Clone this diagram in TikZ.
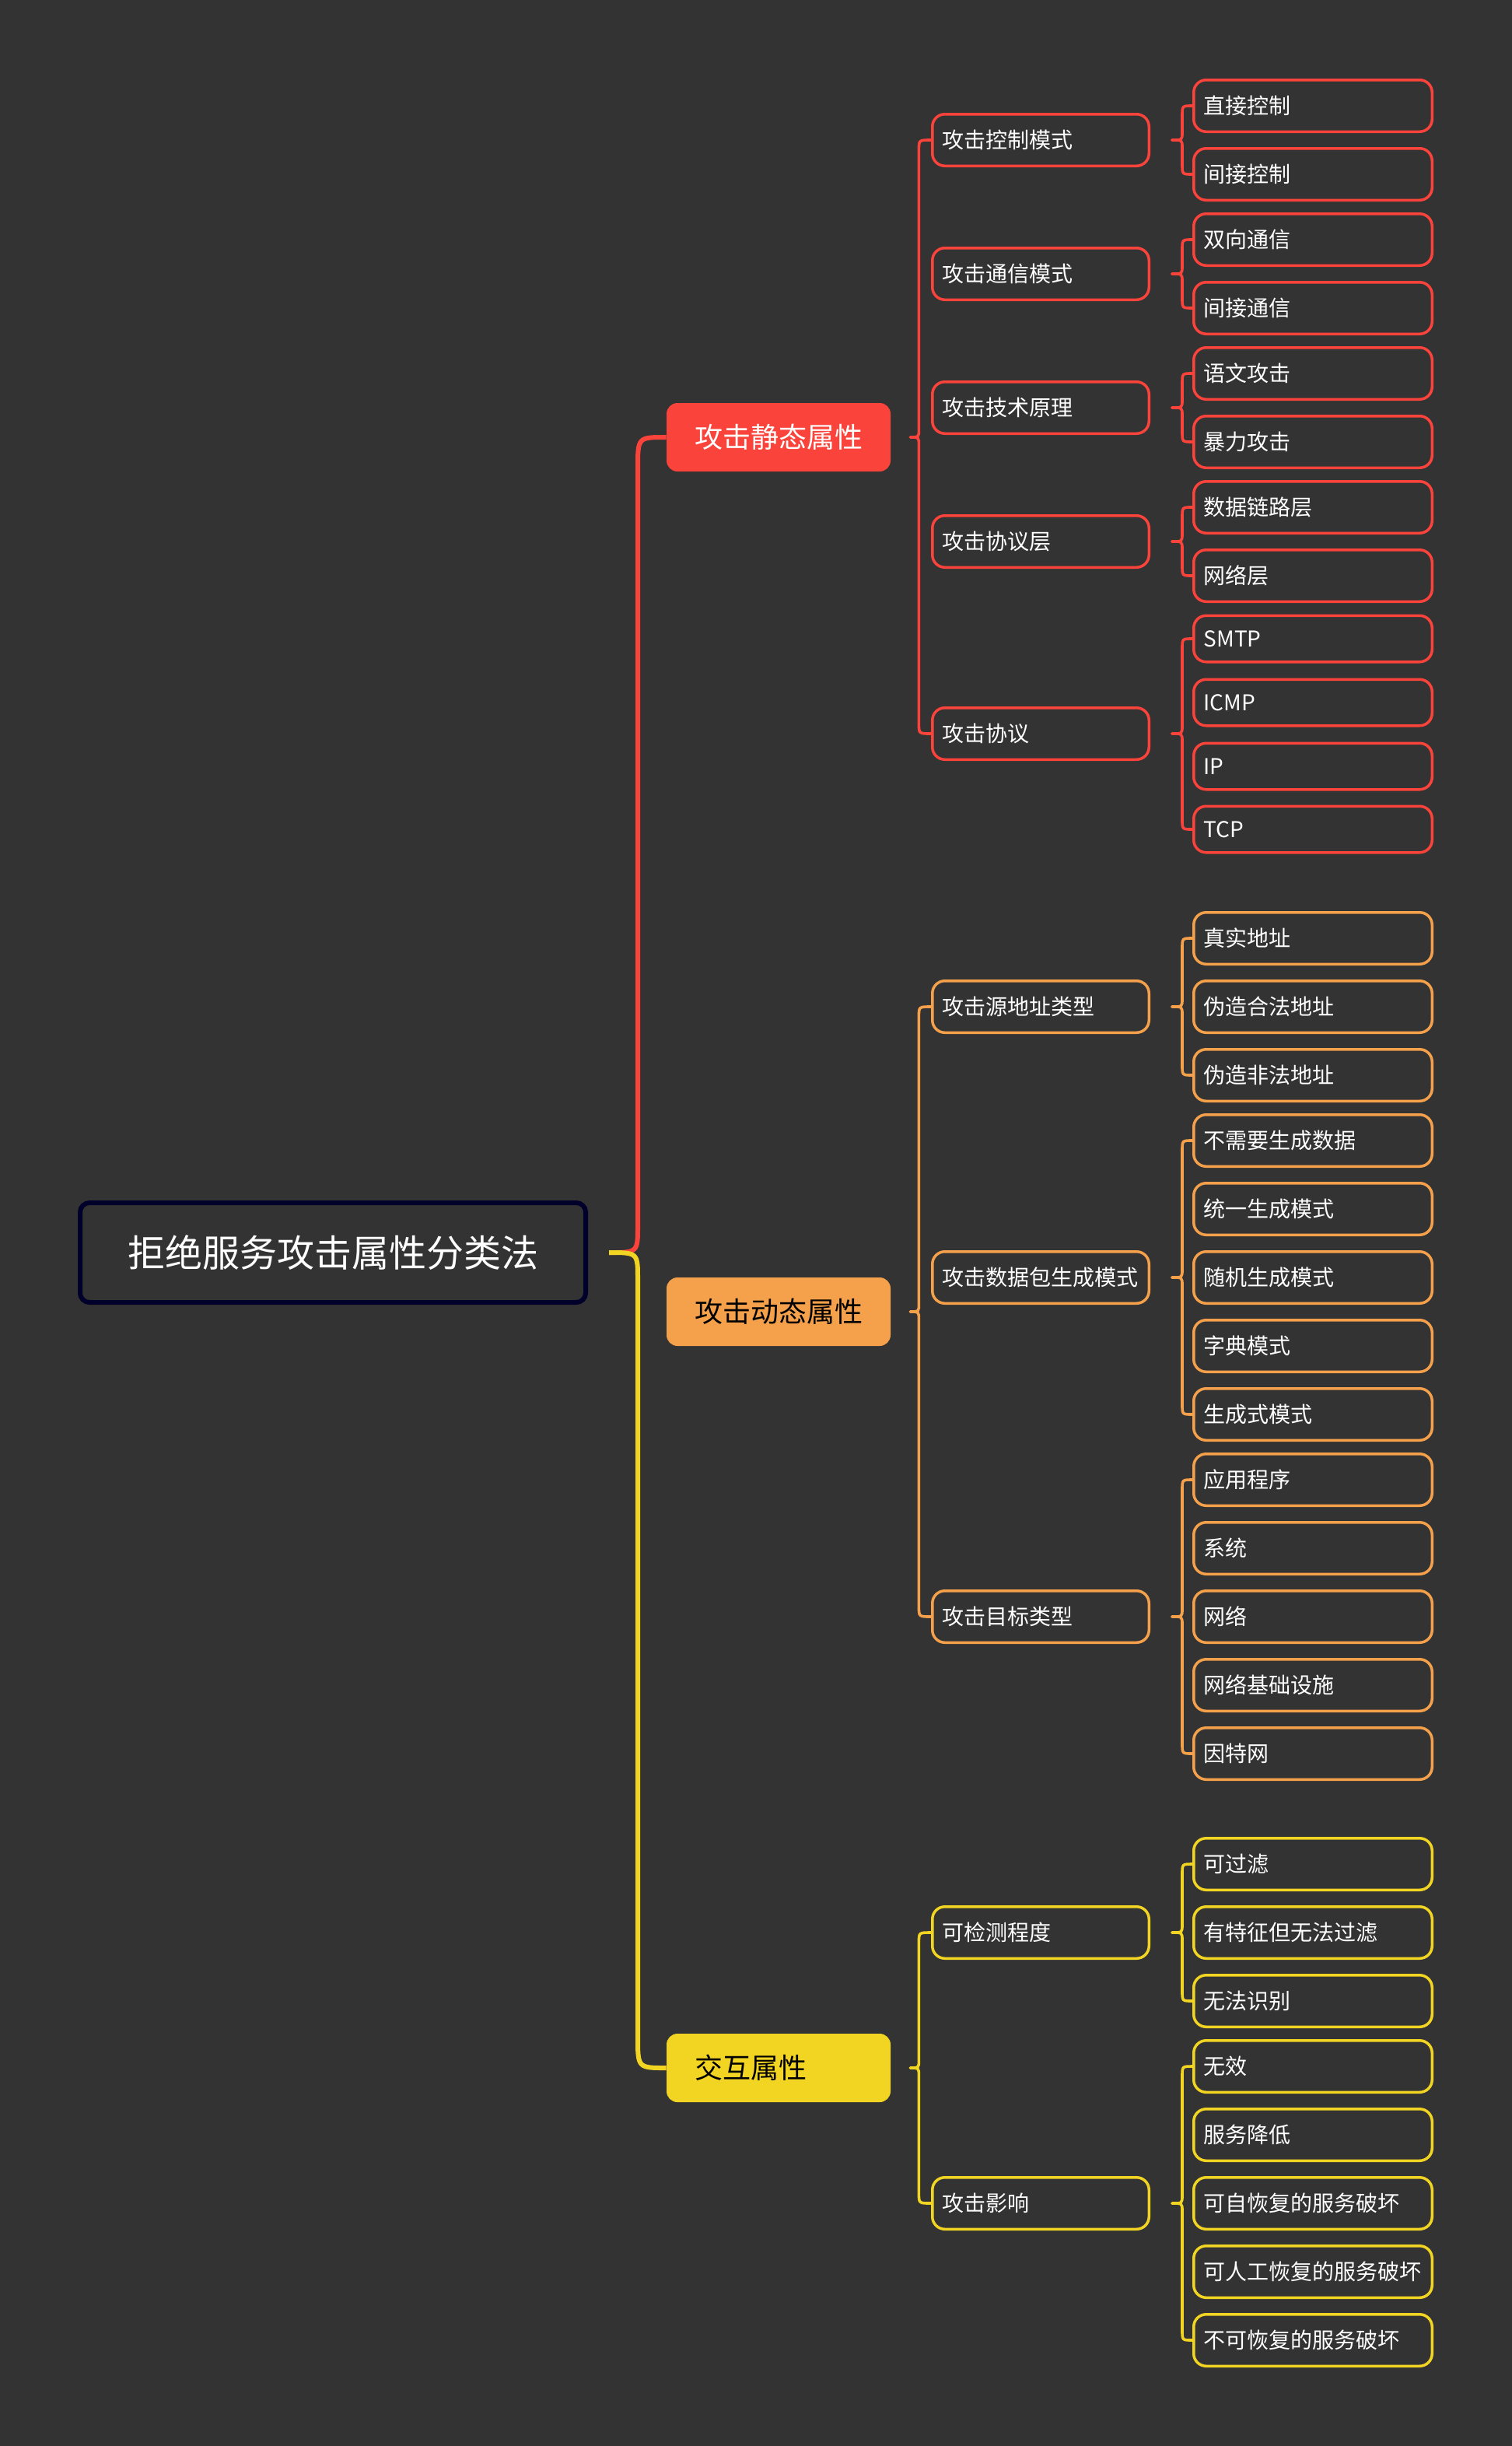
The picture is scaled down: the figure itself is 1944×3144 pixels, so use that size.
\documentclass[tikz,border=0pt]{standalone}
\usepackage{fontspec}
\setmainfont{Noto Sans CJK SC}
\usetikzlibrary{calc}
\definecolor{bg}{HTML}{333333}
\definecolor{cred}{HTML}{FA433A}
\definecolor{corg}{HTML}{F5A04B}
\definecolor{cyel}{HTML}{F2D422}
\definecolor{croot}{HTML}{00002A}
\tikzset{
  every node/.style={font=\fontsize{14pt}{17pt}\selectfont, text=white},
  rootbox/.style={draw=croot, line width=3pt, rounded corners=6pt, fill=bg, minimum width=325pt, minimum height=64pt, align=center, font=\fontsize{24pt}{28pt}\selectfont},
  topic/.style={rounded corners=7pt, minimum height=44pt, text width=108pt, inner xsep=18pt, align=left, font=\fontsize{18pt}{22pt}\selectfont},
  subbox/.style={draw=#1, line width=1.75pt, rounded corners=8pt, minimum height=33.25pt, text width=126.25pt, inner xsep=6.5pt, align=left},
  leafbox/.style={draw=#1, line width=1.75pt, rounded corners=8pt, minimum height=33.25pt, text width=140.25pt, inner xsep=6.5pt, align=left},
  shortleaf/.style={leafbox=#1, minimum height=29.75pt},
  conn/.style={draw=#1, line width=1.8pt, line cap=round},
  rootconn/.style={draw=#1, line width=3pt},
  brc/.style n args={3}{to path={let \p1=(\tikztostart),\p2=(\tikztotarget),\n1={2*(\y2>\y1)-1} in
    .. controls ({\x1+#1},\y1) .. ({\x1+#1},{\y1+\n1*#2}) -- ({\x1+#1},{\y2-\n1*#3}) .. controls ({\x1+#1},\y2) .. (\x2,\y2)}},
  lbr/.style={brc={6.5pt}{5pt}{6.5pt}},
  mbr/.style={brc={5.5pt}{5pt}{6.5pt}},
  rbr/.style={brc={18.5pt}{17.5pt}{20pt}},
}
\begin{document}
\begin{tikzpicture}[x=0.5pt,y=-0.5pt]
\fill[bg] (0,0) rectangle (1944,3144);
\useasboundingbox (0,0) rectangle (1944,3144);

% root and main topics
\node[rootbox] (root) at (428,1610) {拒绝服务攻击属性分类法};
\node[topic, fill=cred] (s1) at (1001,562) {攻击静态属性};
\node[topic, fill=corg, text=black] (s2) at (1001,1686) {攻击动态属性};
\node[topic, fill=cyel, text=black] (s3) at (1001,2658) {交互属性};

% level 2
\node[subbox=cred] (a1) at (1338,180) {攻击控制模式};
\node[subbox=cred] (a2) at (1338,352) {攻击通信模式};
\node[subbox=cred] (a3) at (1338,524) {攻击技术原理};
\node[subbox=cred] (a4) at (1338,696) {攻击协议层};
\node[subbox=cred] (a5) at (1338,943) {攻击协议};
\node[subbox=corg] (b1) at (1338,1294) {攻击源地址类型};
\node[subbox=corg] (b2) at (1338,1642) {攻击数据包生成模式};
\node[subbox=corg] (b3) at (1338,2078) {攻击目标类型};
\node[subbox=cyel] (c1) at (1338,2484) {可检测程度};
\node[subbox=cyel] (c2) at (1338,2832) {攻击影响};

% leaves red
\node[leafbox=cred] (a11) at (1688,136) {直接控制};
\node[leafbox=cred] (a12) at (1688,224) {间接控制};
\node[leafbox=cred] (a21) at (1688,308) {双向通信};
\node[leafbox=cred] (a22) at (1688,396) {间接通信};
\node[leafbox=cred] (a31) at (1688,480) {语文攻击};
\node[leafbox=cred] (a32) at (1688,568) {暴力攻击};
\node[leafbox=cred] (a41) at (1688,652) {数据链路层};
\node[leafbox=cred] (a42) at (1688,740) {网络层};
\node[shortleaf=cred] (a51) at (1688,821) {SMTP};
\node[shortleaf=cred] (a52) at (1688,903) {ICMP};
\node[shortleaf=cred] (a53) at (1688,985) {IP};
\node[shortleaf=cred] (a54) at (1688,1066) {TCP};

% leaves orange
\node[leafbox=corg] (b11) at (1688,1206) {真实地址};
\node[leafbox=corg] (b12) at (1688,1294) {伪造合法地址};
\node[leafbox=corg] (b13) at (1688,1382) {伪造非法地址};
\node[leafbox=corg] (b21) at (1688,1466) {不需要生成数据};
\node[leafbox=corg] (b22) at (1688,1554) {统一生成模式};
\node[leafbox=corg] (b23) at (1688,1642) {随机生成模式};
\node[leafbox=corg] (b24) at (1688,1730) {字典模式};
\node[leafbox=corg] (b25) at (1688,1818) {生成式模式};
\node[leafbox=corg] (b31) at (1688,1902) {应用程序};
\node[leafbox=corg] (b32) at (1688,1990) {系统};
\node[leafbox=corg] (b33) at (1688,2078) {网络};
\node[leafbox=corg] (b34) at (1688,2166) {网络基础设施};
\node[leafbox=corg] (b35) at (1688,2254) {因特网};

% leaves yellow
\node[leafbox=cyel] (c11) at (1688,2396) {可过滤};
\node[leafbox=cyel] (c12) at (1688,2484) {有特征但无法过滤};
\node[leafbox=cyel] (c13) at (1688,2572) {无法识别};
\node[leafbox=cyel] (c21) at (1688,2656) {无效};
\node[leafbox=cyel] (c22) at (1688,2744) {服务降低};
\node[leafbox=cyel] (c23) at (1688,2832) {可自恢复的服务破坏};
\node[leafbox=cyel] (c24) at (1688,2920) {可人工恢复的服务破坏};
\node[leafbox=cyel] (c25) at (1688,3008) {不可恢复的服务破坏};

% root connectors
\coordinate (rt) at ($(root.east)+(27,0)$);
\draw[rootconn=cred] (rt) to[rbr] (s1.west);
\draw[rootconn=cyel] (rt) to[rbr] (s3.west);

% main topic connectors
\foreach \p/\f/\l/\c in {s1/a1/a5/cred, s2/b1/b3/corg, s3/c1/c2/cyel}{
  \draw[conn=\c] ($(\p.east)+(25,0)$) to[mbr] (\f.west);
  \draw[conn=\c] ($(\p.east)+(25,0)$) to[mbr] (\l.west);
}

% subtopic connectors
\foreach \p/\f/\l/\c in {a1/a11/a12/cred, a2/a21/a22/cred, a3/a31/a32/cred, a4/a41/a42/cred, a5/a51/a54/cred,
  b1/b11/b13/corg, b2/b21/b25/corg, b3/b31/b35/corg, c1/c11/c13/cyel, c2/c21/c25/cyel}{
  \draw[conn=\c] ($(\p.east)+(28,0)$) to[lbr] (\f.west);
  \draw[conn=\c] ($(\p.east)+(28,0)$) to[lbr] (\l.west);
}
\end{tikzpicture}
\end{document}
